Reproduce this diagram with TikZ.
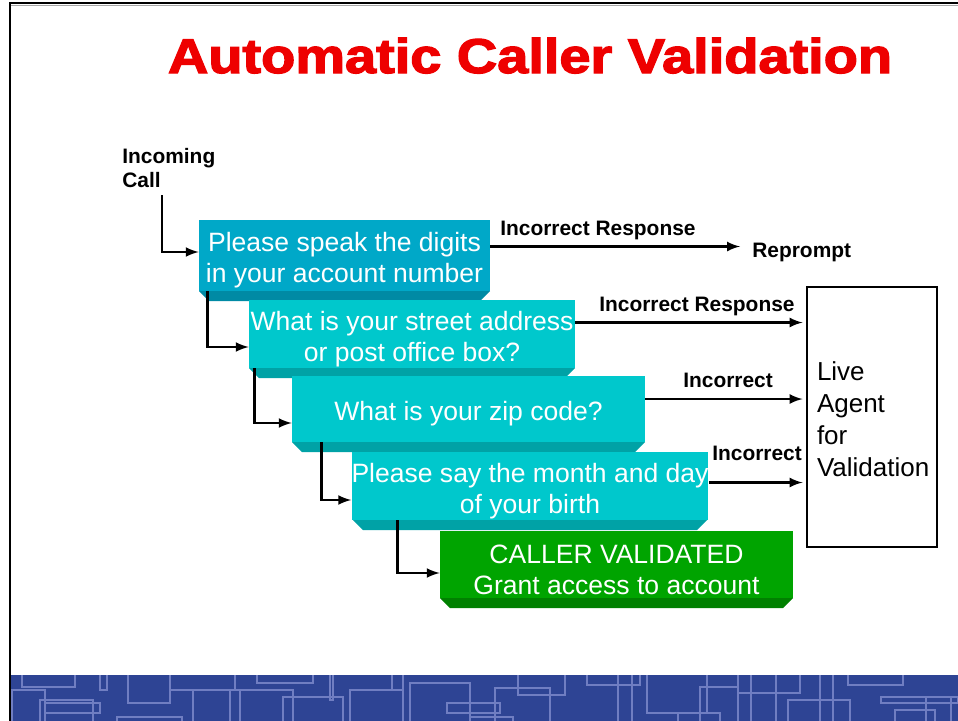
\documentclass[tikz,border=0pt]{standalone}
\usepackage{fontspec}
\setmainfont{Liberation Sans}
\newfontfamily\titlefont[BoldFont={Liberation Sans Bold}, BoldFeatures={FakeBold=2.5}]{Liberation Sans}
\usetikzlibrary{positioning}

\definecolor{titlered}{RGB}{238,0,0}
\definecolor{askblue}{RGB}{0,168,200}
\definecolor{askblueshade}{RGB}{0,138,164}
\definecolor{askcyan}{RGB}{0,200,204}
\definecolor{askcyanshade}{RGB}{0,162,166}
\definecolor{passgreen}{RGB}{0,164,0}
\definecolor{passgreenshade}{RGB}{0,128,0}
\definecolor{banner}{RGB}{46,68,148}
\definecolor{bannerline}{RGB}{112,126,194}

% bottom bevel of a prompt box: left, right, face bottom, colour
\newcommand{\qshade}[4]{\fill[#4] (#1,#3) -- (#2,#3) -- ({#2-10},{#3+10}) -- ({#1+10},{#3+10}) -- cycle;}
% strut that pushes the first line of a prompt down a little
\newcommand{\qtop}{\rule{0pt}{16.5pt}}

\tikzset{
  flow/.style={-latex, line width=1.5pt},
  qbox/.style={rectangle, inner sep=0pt, text=white, align=center,
    font=\fontsize{15.1}{17.6}\selectfont},
  lbl/.style={inner sep=0pt, font=\bfseries\fontsize{11.9}{14.2}\selectfont},
}

\begin{document}
\begin{tikzpicture}[x=0.02cm, y=-0.02cm]
        \useasboundingbox (0,0) rectangle (958,721);
        % slide frame and banner
        \fill[banner] (11,675) rectangle (958,721);
        \begin{scope}
            \clip (11,675) rectangle (958,721);
            \foreach \a/\b/\c/\d in {22/662/75/687, 12/690/45/740, 40/700/93/740,
                45/703/100/713, 100/662/107/690, 128/662/170/703, 117/717/182/740,
                170/662/235/690, 193/690/240/740,
                257/662/313/683, 230/690/293/740, 283/697/343/740, 330/662/333/700,
                350/690/403/740, 392/662/403/690, 410/683/470/740,
                447/703/500/713, 470/717/513/740,
                495/688/550/740, 518/662/565/695, 587/662/640/685,
                618/662/632/740, 647/662/707/713, 678/713/720/740,
                700/687/738/740, 738/662/800/693, 751/662/776/740, 788/700/850/740,
                820/662/833/740, 848/662/903/685, 881/697/958/703, 895/710/935/740,
                926/697/951/740}
                \draw[bannerline, line width=1.3pt] (\a,\b) rectangle (\c,\d);
        \end{scope}
        \draw[line width=1.2pt] (10,721) -- (10,3) -- (958,3);
        \draw[black!35, line width=0.8pt] (11,5.5) -- (958,5.5);

        \node[anchor=base, text=titlered, inner sep=0pt, font=\titlefont\bfseries\fontsize{27.8}{30}\selectfont] (title) at (530,73)
            {\scalebox{1.145}[1]{Automatic Caller Validation}};

        \node[lbl, anchor=west, align=left] (incoming) at (122,168) {Incoming\\Call};
        \coordinate (callfoot) at (162,195);

        % prompt boxes
        \qshade{199}{490}{291}{askblueshade}
        \node[qbox, fill=askblue, minimum width=5.82cm, minimum height=1.42cm] (digits) at (344.5,255.5)
            {\qtop Please speak the digits\\in your account number};
        \qshade{249}{575}{368}{askcyanshade}
        \node[qbox, fill=askcyan, minimum width=6.52cm, minimum height=1.36cm] (street) at (412,334)
            {\qtop What is your street address\\or post office box?};
        \qshade{292}{645}{442}{askcyanshade}
        \node[qbox, fill=askcyan, minimum width=7.06cm, minimum height=1.32cm] (zip) at (468.5,409)
            {\qtop What is your zip code?};
        \qshade{353}{707}{520}{askcyanshade}
        \node[qbox, fill=askcyan, minimum width=7.08cm, minimum height=1.36cm] (birth) at (530,486)
            {\qtop Please say the month and day\\of your birth};
        \qshade{440}{793}{598}{passgreenshade}
        \node[qbox, fill=passgreen, minimum width=7.06cm, minimum height=1.34cm] (granted) at (616.5,564.5)
            {\qtop CALLER VALIDATED\\Grant access to account};

        \node[draw, line width=1.1pt, fill=white, minimum width=2.6cm, minimum height=5.2cm,
            inner xsep=0.18cm, text width=2.2cm, align=left, font=\fontsize{14.8}{18.2}\selectfont,
            execute at begin node={\rule{0pt}{13pt}}] (agent) at (872,417)
            {Live\\Agent\\for\\Validation};

        % labels on the failure paths
        \node[lbl, anchor=base west] (resp1) at (500,235.5) {Incorrect Response};
        \node[lbl, anchor=west, inner xsep=0.24cm] (reprompt) at (740,252) {Reprompt};
        \node[lbl, anchor=base west] (resp2) at (599,311.5) {Incorrect Response};
        \node[lbl, anchor=base west] (wrong3) at (683,387.5) {Incorrect};
        \node[lbl, anchor=base west] (wrong4) at (712,460.5) {Incorrect};

        % main path
        \draw[flow] (callfoot) |- ([yshift=0.07cm]digits.west);
        \draw[flow] ([xshift=0.18cm]digits.south west) |- ([yshift=-0.26cm]street.west);
        \draw[flow] ([xshift=0.12cm]street.south west) |- ([yshift=-0.28cm]zip.west);
        \draw[flow] ([xshift=0.6cm]zip.south west) |- ([yshift=-0.28cm]birth.west);
        \draw[flow] ([xshift=0.92cm]birth.south west) |- ([yshift=-0.17cm]granted.west);

        % failure paths
        \draw[flow] ([yshift=0.18cm]digits.east) -- ([yshift=0.18cm]digits.east -| reprompt.west);
        \draw[flow, shorten >=2pt] ([yshift=0.23cm]street.east) -- ([yshift=0.23cm]street.east -| agent.west);
        \draw[flow, shorten >=2pt] ([yshift=0.2cm]zip.east) -- ([yshift=0.2cm]zip.east -| agent.west);
        \draw[flow, shorten >=2pt] ([yshift=0.07cm]birth.east) -- ([yshift=0.07cm]birth.east -| agent.west);
\end{tikzpicture}
\end{document}
